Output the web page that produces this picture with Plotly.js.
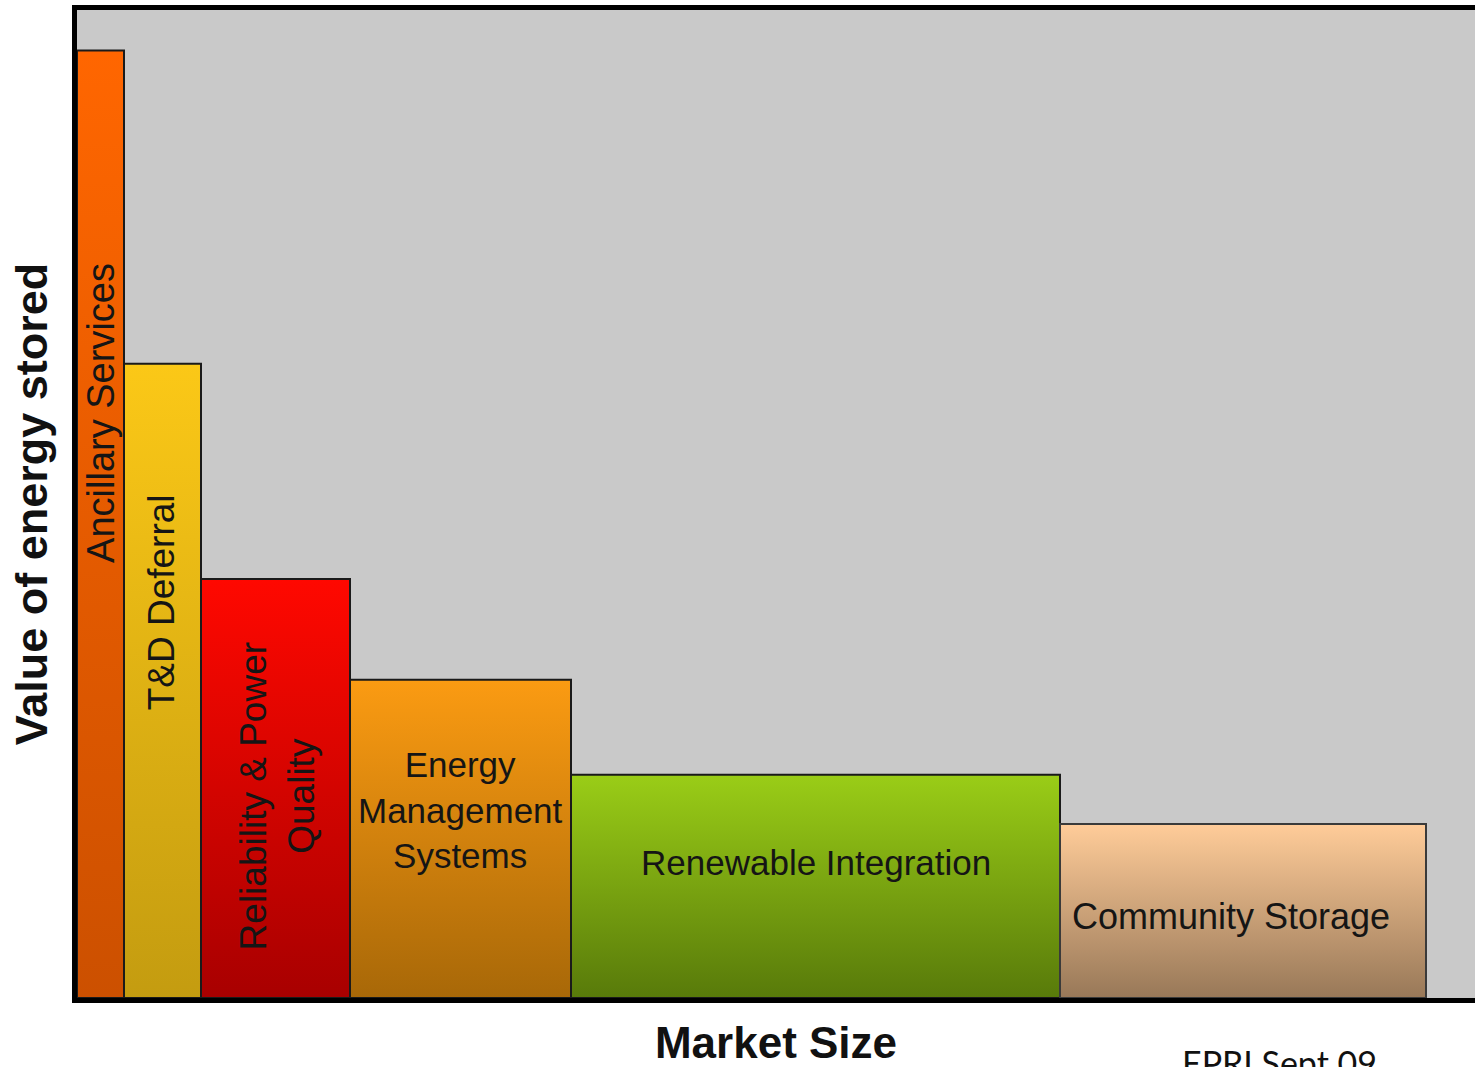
<!DOCTYPE html>
<html><head><meta charset="utf-8">
<script src="https://cdn.plot.ly/plotly-3.0.1.min.js"></script>
<style>html,body{margin:0;padding:0;background:#fff;overflow:hidden}</style>
</head><body>
<div id="chart" style="width:1475px;height:1067px"></div>
<script>
// ---- data ----
const categories = ["Ancillary Services", "T&D Deferral", "Reliability & Power Quality",
                    "Energy Management Systems", "Renewable Integration", "Community Storage"];
const labelTexts = ["Ancillary Services", "T&D Deferral", "Reliability & Power<br>Quality",
                    "Energy<br>Management<br>Systems", "Renewable Integration", "Community Storage"];
const marketSize = [4.7, 7.7, 14.9, 22.1, 48.9, 36.6];      // bar widths
const valueStored = [95.9, 64.2, 42.4, 32.2, 22.6, 17.6];   // bar heights
const xAxisTitle = "Market Size";
const yAxisTitle = "Value of energy stored";
const sourceNote = "EPRI Sept 09";

// ---- styles ----
const topColors    = ["#ff6600", "#fbc817", "#ff0800", "#fb9b12", "#9acd17", "#ffcc99"];
const bottomColors = ["#cc5000", "#c49c10", "#a80000", "#a86808", "#587a0a", "#987858"];
const outlineColors = ["#1a1a1a", "#1a1a1a", "#1a1a1a", "#1a1a1a", "#1a1a1a", "#3a3a3a"];
const labelAngle = [-90, -90, -90, 0, 0, 0];
const labelHeightFrac = [0.617, 0.623, 0.48, 0.59, 0.605, 0.47];
const labelSize = [38, 37, 37, 35, 35, 36];
const labelShift = [1, -1, 2, 0, 0, -12];

const traces = [];
const annotations = [];
let left = 0;
categories.forEach((cat, i) => {
  const x0 = left, x1 = left + marketSize[i], h = valueStored[i];
  traces.push({
    type: "scatter", mode: "lines", name: cat,
    x: [x0, x1, x1, x0, x0], y: [0, 0, h, h, 0],
    fill: "toself",
    fillgradient: {type: "vertical", colorscale: [[0, bottomColors[i]], [1, topColors[i]]]},
    line: {color: outlineColors[i], width: 2},
    hoverinfo: "name", showlegend: false
  });
  annotations.push({
    x: (x0 + x1) / 2, y: h * labelHeightFrac[i], xref: "x", yref: "y",
    xshift: labelShift[i],
    text: labelTexts[i], showarrow: false, textangle: labelAngle[i],
    font: {family: "Liberation Sans, Arial, sans-serif", size: labelSize[i], color: "#151515"},
    align: "center"
  });
  left = x1;
});

annotations.push({
  xref: "paper", yref: "paper", x: 0.8605, y: -0.0425, xanchor: "center", yanchor: "top",
  text: sourceNote, showarrow: false,
  font: {family: "Lato, Open Sans, sans-serif", size: 34, color: "#111"}
});

const layout = {
  width: 1475, height: 1067,
  margin: {l: 77, r: 0, t: 10, b: 69},
  paper_bgcolor: "#ffffff",
  plot_bgcolor: "#c9c9c9",
  xaxis: {
    range: [0, 139.8], showline: true, linewidth: 5, linecolor: "#000", mirror: true,
    showticklabels: false, ticks: "", showgrid: false, zeroline: false, fixedrange: true,
    title: {text: xAxisTitle, standoff: 27,
            font: {family: "Liberation Sans, Arial, sans-serif", size: 44, color: "#111", weight: "bold"}}
  },
  yaxis: {
    range: [0, 100], showline: true, linewidth: 5, linecolor: "#000",
    showticklabels: false, ticks: "", showgrid: false, zeroline: false, fixedrange: true,
    title: {text: yAxisTitle, standoff: 12,
            font: {family: "Liberation Sans, Arial, sans-serif", size: 45, color: "#111", weight: "bold"}}
  },
  annotations: annotations,
  showlegend: false
};

Plotly.newPlot("chart", traces, layout, {displayModeBar: false, staticPlot: true});
</script>
</body></html>
